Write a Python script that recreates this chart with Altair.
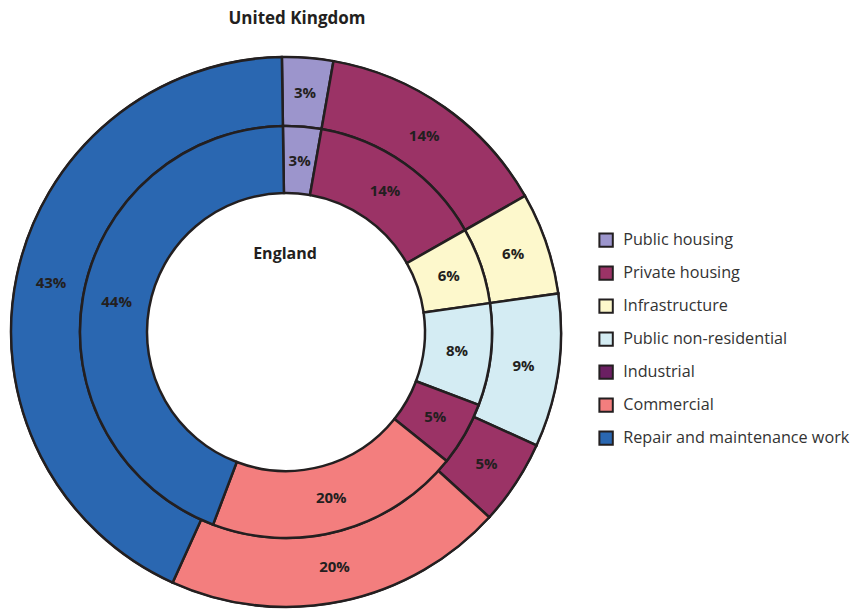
import altair as alt
import pandas as pd
import math

categories = ["Public housing", "Private housing", "Infrastructure",
              "Public non-residential", "Industrial", "Commercial",
              "Repair and maintenance work"]
uk_values = [3, 14, 6, 9, 5, 20, 43]
england_values = [3, 14, 6, 8, 5, 20, 44]
slice_colors = ["#9c95cc", "#9b3366", "#fdf8cc", "#d4ecf3", "#9b3366", "#f37e7e", "#2a67b1"]
legend_colors = ["#9c95cc", "#9b3366", "#fdf8cc", "#d4ecf3", "#6b1f62", "#f37e7e", "#2a67b1"]

rows = []
for i, c in enumerate(categories):
    rows.append({"ring": "United Kingdom", "category": c, "idx": i, "value": uk_values[i]})
    rows.append({"ring": "England", "category": c, "idx": i, "value": england_values[i]})
df = pd.DataFrame(rows)
df["label"] = df["value"].astype(str) + "%"

CX, CY = 278, 324
INK = "#231f20"
FONT = "Open Sans"
START = -0.015

base = alt.Chart(df).encode(
    theta=alt.Theta("value:Q", stack=True,
                    scale=alt.Scale(range=[START, START + 2 * math.pi])),
    order=alt.Order("idx:Q"),
    x=alt.value(CX),
    y=alt.value(CY),
)

uk = base.transform_filter(alt.datum.ring == "United Kingdom")
en = base.transform_filter(alt.datum.ring == "England")

legend_layer = uk.mark_arc(outerRadius=275, innerRadius=206, stroke=INK, strokeWidth=2).encode(
    color=alt.Color("category:N", scale=alt.Scale(domain=categories, range=legend_colors),
                    legend=alt.Legend(title=None, orient="none", legendX=590, legendY=224,
                                      symbolType="square", symbolSize=180,
                                      symbolStrokeColor=INK, symbolStrokeWidth=2,
                                      labelFontSize=16.2, labelFont=FONT, labelColor="#333333",
                                      labelOffset=9, rowPadding=11, padding=0,
                                      labelLimit=400))
)

fill_enc = alt.Fill("category:N", scale=alt.Scale(domain=categories, range=slice_colors), legend=None)

uk_arc = uk.mark_arc(outerRadius=275, innerRadius=206, stroke=INK, strokeWidth=2.5).encode(fill=fill_enc)
en_arc = en.mark_arc(outerRadius=206, innerRadius=139, stroke=INK, strokeWidth=2.5).encode(fill=fill_enc)

uk_txt = uk.mark_text(radius=240, font=FONT, fontWeight="bold", fontSize=15, color=INK).encode(text="label:N")
en_txt = en.mark_text(radius=172, font=FONT, fontWeight="bold", fontSize=15, color=INK).encode(text="label:N")

title_df = pd.DataFrame({"t": ["United Kingdom", "England"]})
t1 = alt.Chart(title_df).transform_filter(alt.datum.t == "United Kingdom").mark_text(
    font=FONT, fontWeight="bold", fontSize=17, color=INK, baseline="middle").encode(
    text="t:N", x=alt.value(289), y=alt.value(11))
t2 = alt.Chart(title_df).transform_filter(alt.datum.t == "England").mark_text(
    font=FONT, fontWeight="bold", fontSize=16, color=INK, baseline="middle").encode(
    text="t:N", x=alt.value(277), y=alt.value(246))

chart = alt.layer(legend_layer, uk_arc, en_arc, uk_txt, en_txt, t1, t2).resolve_scale(
    color="independent", fill="independent"
).properties(width=842, height=602, padding=0,
             autosize=alt.AutoSizeParams(type="none")).configure_view(stroke=None)

chart.save("out.html", embed_options={"renderer": "svg", "actions": False})
